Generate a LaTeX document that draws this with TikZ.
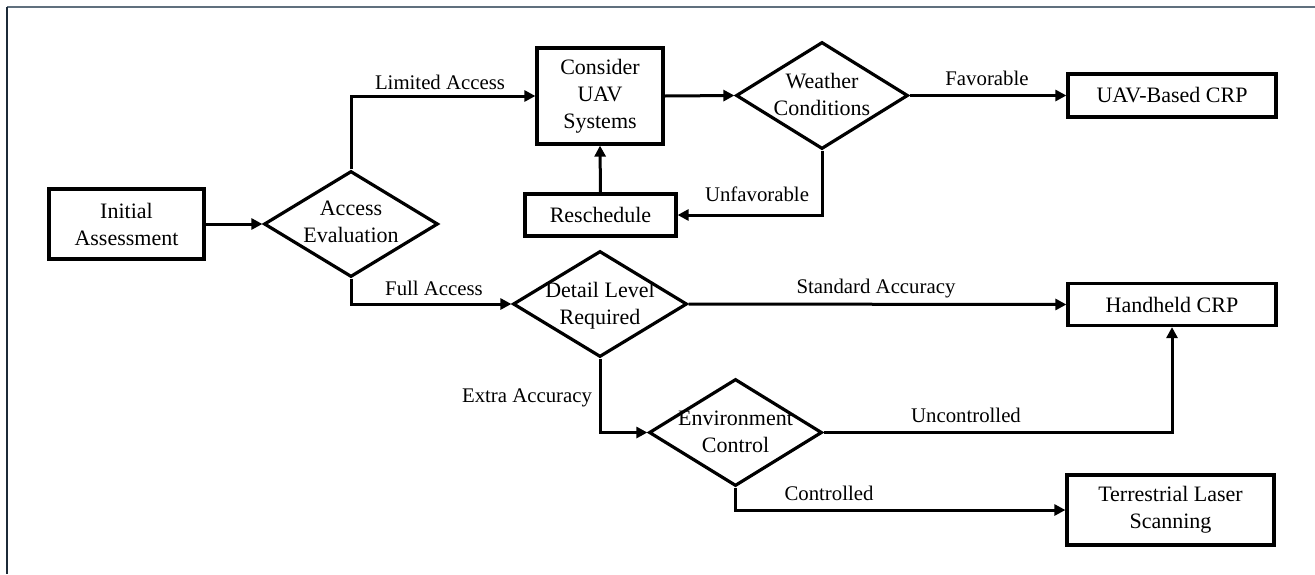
\documentclass[tikz,border=0pt]{standalone}
\usepackage{fontspec}
\setmainfont{Liberation Serif}
\usetikzlibrary{shapes.geometric,arrows.meta}
\definecolor{frametop}{RGB}{96,112,126}
\definecolor{frameleft}{RGB}{28,42,56}
\tikzset{
  box/.style={draw, rectangle, line width=3.2pt, inner sep=2pt, align=center,
    font=\fontsize{22}{27}\selectfont},
  dia/.style={draw, diamond, line width=3.2pt, inner sep=0pt},
  dtext/.style={align=center, font=\fontsize{22}{27}\selectfont},
  lbl/.style={font=\fontsize{20.8}{25}\selectfont, inner sep=0pt},
  conn/.style={line width=3pt, -{Triangle[length=11pt,width=11pt]}},
}
\begin{document}
\begin{tikzpicture}[x=1pt,y=-1pt]
\useasboundingbox (0,0) rectangle (1315,574);
\fill[white] (0,0) rectangle (1315,574);
\draw[frametop, line width=1.5pt] (7,7) -- (1315,7);
\draw[frameleft, line width=1.5pt] (7,7) -- (7,574);

% boxes
\node[box, minimum width=155pt, minimum height=70pt] (ia) at (126.5,224) {Initial\\Assessment};
\node[box, minimum width=126pt, minimum height=96pt] (uav) at (600,96) {Consider\\UAV\\Systems};
\node[box, minimum width=151pt, minimum height=42pt] (res) at (600.5,215) {Reschedule};
\node[box, minimum width=208pt, minimum height=43pt] (uavcrp) at (1172,95.5) {UAV-Based CRP};
\node[box, minimum width=208pt, minimum height=42pt] (hh) at (1172,304.5) {Handheld CRP};
\node[box, minimum width=207pt, minimum height=70pt] (tls) at (1170.5,510) {Terrestrial Laser\\Scanning};

% diamonds
\node[dia, minimum width=174pt, minimum height=106pt] (acc) at (351,224) {};
\node[dtext] (acct) at (351,222) {Access\\Evaluation};
\node[dia, minimum width=172pt, minimum height=107pt] (wx) at (822,95.5) {};
\node[dtext] (wxt) at (822,94) {Weather\\Conditions};
\node[dia, minimum width=174pt, minimum height=106pt] (det) at (600,304) {};
\node[dtext] (dett) at (600,306) {Detail Level\\Required};
\node[dia, minimum width=173pt, minimum height=107pt] (env) at (735.5,432.5) {};
\node[dtext] (envt) at (735.5,432) {Environment\\Control};

% connectors
\draw[conn] (ia.east) -- (acc.west);
\draw[conn] (acc.north) |- (uav.west);
\draw[conn] (uav.east) -- (wx.west);
\draw[conn] (wx.east) -- (uavcrp.west);
\draw[conn] (wx.south) |- (res.east);
\draw[conn] (res.north) -- (uav.south);
\draw[conn] (acc.south) |- (det.west);
\draw[conn] (det.east) -- (hh.west);
\draw[conn] (det.south) |- (env.west);
\draw[conn] (env.east) -| (hh.south);
\draw[conn] (env.south) |- (tls.west);

% labels
\node[lbl] (l1) at (440,82) {Limited Access};
\node[lbl] (l2) at (987,78) {Favorable};
\node[lbl] (l3) at (757,194) {Unfavorable};
\node[lbl] (l4) at (434,288) {Full Access};
\node[lbl] (l5) at (876,289) {Standard Accuracy};
\node[lbl] (l6) at (527,398) {Extra Accuracy};
\node[lbl] (l7) at (966,415) {Uncontrolled};
\node[lbl] (l8) at (829,493) {Controlled};
\end{tikzpicture}
\end{document}
